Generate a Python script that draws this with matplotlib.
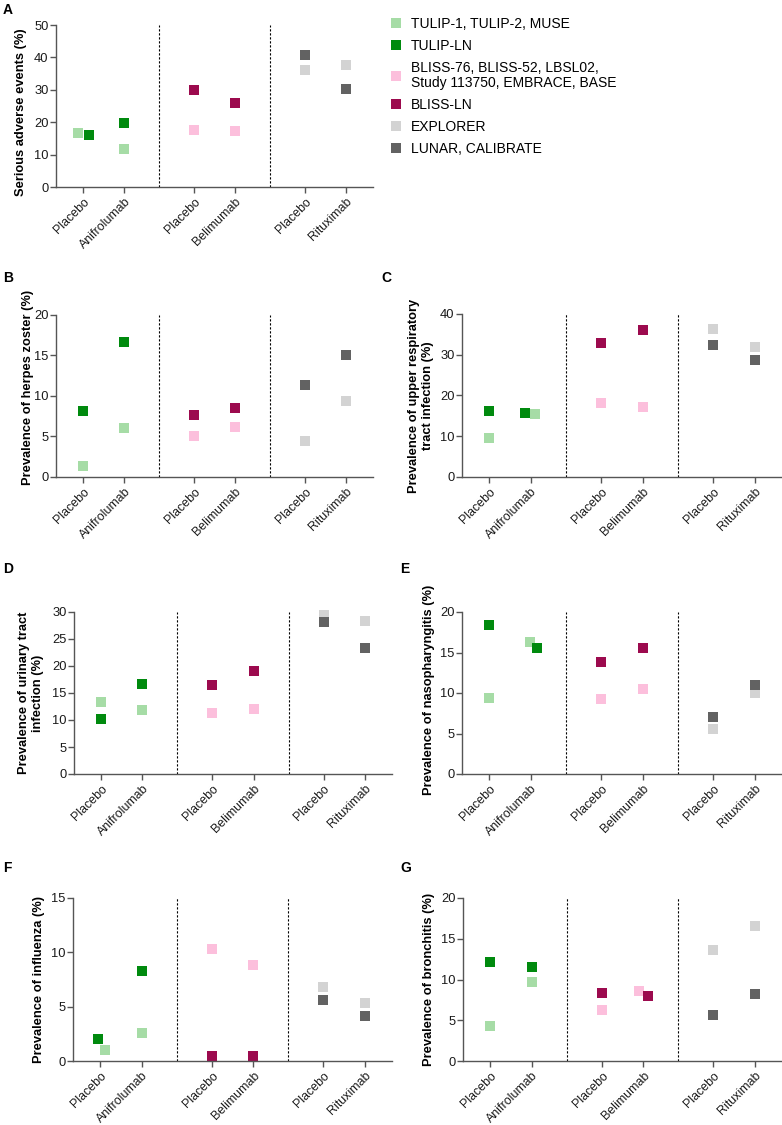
import matplotlib
matplotlib.use("Agg")
import matplotlib.pyplot as plt
from matplotlib.lines import Line2D

plt.rcParams['font.family'] = ['Liberation Sans', 'DejaVu Sans']

# Series (studies) and their colours
series_names = ["TULIP-1, TULIP-2, MUSE", "TULIP-LN",
                "BLISS-76, BLISS-52, LBSL02,\nStudy 113750, EMBRACE, BASE",
                "BLISS-LN", "EXPLORER", "LUNAR, CALIBRATE"]
series_colors = ["#a6dca6", "#008a0e", "#fcbfdc", "#9c0a4e", "#d3d3d3", "#626262"]
# which two categories each series belongs to (placebo, drug)
series_cats = [[0, 1], [0, 1], [2, 3], [2, 3], [4, 5], [4, 5]]

tick_labels = ["Placebo", "Anifrolumab", "Placebo", "Belimumab", "Placebo", "Rituximab"]

# Values per outcome: one [placebo, drug] pair per series, in series order
serious_ae = [[16.6, 11.8], [16.2, 19.7], [17.7, 17.4], [29.9, 25.9], [36.2, 37.7], [40.6, 30.4]]
herpes_zoster = [[1.3, 6.1], [8.2, 16.7], [5.1, 6.2], [7.6, 8.5], [4.5, 9.4], [11.3, 15.1]]
urti = [[9.6, 15.4], [16.2, 15.6], [18.2, 17.2], [33.0, 36.0], [36.2, 31.9], [32.3, 28.7]]
uti = [[13.4, 11.9], [10.1, 16.6], [11.3, 12.1], [16.5, 19.1], [29.5, 28.3], [28.1, 23.3]]
nasopharyngitis = [[9.4, 16.3], [18.4, 15.5], [9.2, 10.5], [13.8, 15.6], [5.6, 10.0], [7.0, 11.0]]
influenza = [[1.04, 2.6], [2.0, 8.25], [10.3, 8.8], [0.43, 0.43], [6.8, 5.3], [5.6, 4.1]]
bronchitis = [[4.3, 9.7], [12.2, 11.5], [6.2, 8.6], [8.4, 8.0], [13.6, 16.6], [5.6, 8.2]]

# category positions on the x axis (gap between drug groups)
x_pos = [0, 1, 2.7, 3.7, 5.4, 6.4]
separators = [1.85, 4.55]

# small sideways nudges where points overlap: (category, series) -> shift
nudges = {
    "A": {(0, 0): -0.12, (0, 1): 0.14},
    "C": {(1, 1): -0.13, (1, 0): 0.10},
    "E": {(1, 0): -0.03, (1, 1): 0.15},
    "F": {(0, 1): -0.06, (0, 0): 0.12},
    "G": {(3, 2): -0.09, (3, 3): 0.12},
}

W, H = 782, 1125
fig = plt.figure(figsize=(W / 100, H / 100), dpi=100)

# panel: letter, data, ylabel, ymax, ystep, axes box px (left, top, right, bottom),
# ylabel gap px, ylabel vertical centre (axes frac), letter pos px
panels = [
    ("A", serious_ae, "Serious adverse events (%)", 50, 10, (56, 25, 373, 187), 29, 0.46, (3, 3)),
    ("B", herpes_zoster, "Prevalence of herpes zoster (%)", 20, 5, (56, 315, 373, 477), 22, 0.55, (3, 271)),
    ("C", urti, "Prevalence of upper respiratory\ntract infection (%)", 40, 10, (462, 314, 782, 477), 28, 0.5, (381, 271)),
    ("D", uti, "Prevalence of urinary tract\ninfection (%)", 30, 5, (74, 612, 392, 774), 30, 0.5, (3, 562)),
    ("E", nasopharyngitis, "Prevalence of nasopharyngitis (%)", 20, 5, (462, 612, 782, 774), 27, 0.52, (400, 562)),
    ("F", influenza, "Prevalence of influenza (%)", 15, 5, (73, 898, 392, 1061), 28, 0.5, (3, 861)),
    ("G", bronchitis, "Prevalence of bronchitis (%)", 20, 5, (463, 898, 782, 1061), 28, 0.5, (400, 861)),
]

spine_col = "#555555"
fs = 9.3

for letter, vals, ylabel, ymax, ystep, box, gap, ly, lpos in panels:
    l, t, r, b = box
    ax = fig.add_axes([l / W, 1 - b / H, (r - l) / W, (b - t) / H])
    for s in range(6):
        for k, c in enumerate(series_cats[s]):
            dx = nudges.get(letter, {}).get((c, s), 0)
            ax.plot(x_pos[c] + dx, vals[s][k], marker="s", ms=6.8, mew=0,
                    color=series_colors[s], linestyle="none", clip_on=False)
    for sx in separators:
        ax.axvline(sx, color="black", lw=0.8, linestyle=(0, (2, 1.6)))
    ax.set_xlim(-0.66, 7.06)
    ax.set_ylim(0, ymax)
    ax.set_yticks(range(0, ymax + 1, ystep))
    ax.set_xticks(x_pos)
    ax.set_xticklabels(tick_labels, rotation=45, ha="right", va="top",
                       rotation_mode="anchor", fontsize=8.9)
    for sp in ["top", "right"]:
        ax.spines[sp].set_visible(False)
    for sp in ["left", "bottom"]:
        ax.spines[sp].set_color(spine_col)
        ax.spines[sp].set_linewidth(1.0)
    ax.tick_params(axis="both", color=spine_col, width=1.0, length=4.3,
                   labelcolor="#1a1a1a")
    ax.tick_params(axis="y", pad=1, labelsize=fs)
    ax.tick_params(axis="x", pad=2)
    ax.set_ylabel(ylabel, fontsize=fs, fontweight="bold", linespacing=1.25)
    ax.yaxis.set_label_coords(-gap / (r - l), ly)
    fig.text(lpos[0] / W, 1 - lpos[1] / H, letter, fontsize=10, fontweight="bold",
             ha="left", va="top")

handles = [Line2D([], [], marker="s", ms=6.8, mew=0, color=c, linestyle="none")
           for c in series_colors]
leg = fig.legend(handles, series_names, loc="upper left", bbox_to_anchor=(390 / W, 1 - 17 / H),
                 frameon=False, fontsize=10, handlelength=0.8, handletextpad=0.7,
                 labelspacing=0.58, borderpad=0, borderaxespad=0)
for txt in leg.get_texts():
    txt.set_linespacing(1.05)

fig.savefig("out.png", dpi=100)
